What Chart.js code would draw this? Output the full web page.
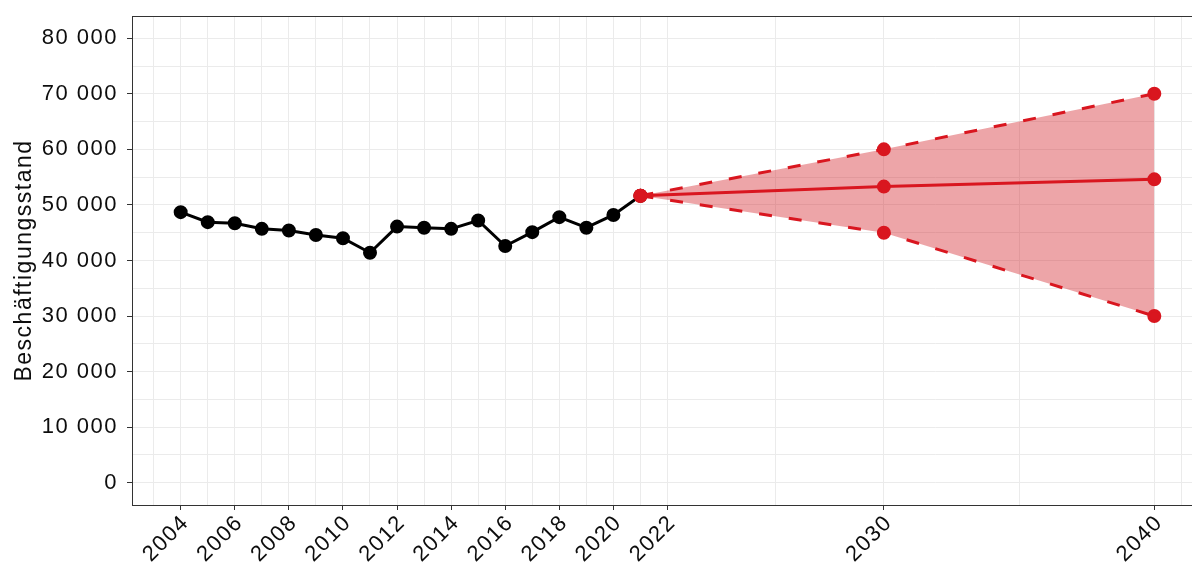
<!DOCTYPE html>
<html lang="de">
<head>
    <meta charset="UTF-8">
    <title>Beschäftigungsstand</title>
    <script src="https://cdn.jsdelivr.net/npm/chart.js"></script>
    <style>
        body { margin: 0; background: white; overflow: hidden; }
    </style>
</head>
<body>
    <canvas id="employmentChart" width="1203" height="568"></canvas>
    <script>
        // historische Werte
        const years = [2004, 2005, 2006, 2007, 2008, 2009, 2010, 2011, 2012, 2013, 2014, 2015, 2016, 2017, 2018, 2019, 2020, 2021];
        const employment = [48700, 46900, 46700, 45700, 45400, 44600, 44000, 41400, 46100, 45900, 45700, 47200, 42600, 45100, 47800, 45900, 48200, 51650];

        // Prognose
        const forecastYears = [2021, 2030, 2040];
        const forecastMid = [51650, 53300, 54600];
        const forecastHigh = [51650, 60000, 70000];
        const forecastLow = [51650, 45000, 30000];

        // Achsen
        const xMajorTicks = [2004, 2006, 2008, 2010, 2012, 2014, 2016, 2018, 2020, 2022, 2030, 2040];
        const xMinorTicks = [2003, 2005, 2007, 2009, 2011, 2013, 2015, 2017, 2019, 2021, 2026, 2035, 2041];
        const yMajorTicks = [0, 10000, 20000, 30000, 40000, 50000, 60000, 70000, 80000];
        const yMinorTicks = [5000, 15000, 25000, 35000, 45000, 55000, 65000, 75000];

        const red = '#D9161F';
        const fontFamily = "'Liberation Sans', Arial, sans-serif";

        function fmt(v) {
            return String(v).replace(/\B(?=(\d{3})+(?!\d))/g, ' ');
        }
        function toPoints(xs, ys) {
            return xs.map((x, i) => ({ x: x, y: ys[i] }));
        }

        const spacingPlugin = {
            id: 'spacing',
            beforeUpdate(chart) { chart.ctx.letterSpacing = '1.5px'; },
            beforeDraw(chart) { chart.ctx.letterSpacing = '1.5px'; }
        };

        const panelBorder = {
            id: 'panelBorder',
            afterDraw(chart) {
                const a = chart.chartArea;
                const ctx = chart.ctx;
                ctx.save();
                ctx.strokeStyle = '#333333';
                ctx.lineWidth = 1;
                ctx.strokeRect(Math.round(a.left) + 0.5, Math.round(a.top) + 0.5, Math.round(a.right - a.left), Math.round(a.bottom - a.top));
                ctx.restore();
            }
        };

        const ctx = document.getElementById('employmentChart').getContext('2d');
        new Chart(ctx, {
            type: 'line',
            data: {
                datasets: [
                    {
                        label: 'Prognose',
                        data: toPoints(forecastYears, forecastMid),
                        borderColor: red, pointBackgroundColor: red, pointBorderColor: red,
                        borderWidth: 3, pointRadius: 5.5, fill: false, order: 1
                    },
                    {
                        label: 'obere Grenze',
                        data: toPoints(forecastYears, forecastHigh),
                        borderColor: red, pointBackgroundColor: red, pointBorderColor: red,
                        borderWidth: 3, borderDash: [13, 17], pointRadius: 5.5, fill: false, order: 1
                    },
                    {
                        label: 'untere Grenze',
                        data: toPoints(forecastYears, forecastLow),
                        borderColor: red, pointBackgroundColor: red, pointBorderColor: red,
                        backgroundColor: 'rgba(212, 36, 44, 0.41)',
                        borderWidth: 3, borderDash: [13, 17], pointRadius: 5.5, fill: '-1', order: 1
                    },
                    {
                        label: 'Beschäftigungsstand',
                        data: toPoints(years, employment),
                        borderColor: '#000000', pointBackgroundColor: '#000000', pointBorderColor: '#000000',
                        borderWidth: 3, pointRadius: 5.5, fill: false, order: 2
                    }
                ]
            },
            options: {
                responsive: false,
                animation: false,
                devicePixelRatio: 1,
                layout: { autoPadding: false, padding: { top: 16, right: 0, left: 0, bottom: 0 } },
                plugins: {
                    legend: { display: false },
                    tooltip: { enabled: false }
                },
                scales: {
                    x: {
                        type: 'linear',
                        min: 2002.2,
                        max: 2041.8,
                        afterBuildTicks: s => { s.ticks = xMajorTicks.concat(xMinorTicks).sort((a, b) => a - b).map(v => ({ value: v })); },
                        afterFit: s => { s.height = 63; s.paddingLeft = 0; s.paddingRight = 0; },
                        border: { display: false },
                        grid: {
                            color: '#EBEBEB',
                            tickColor: c => xMajorTicks.includes(c.tick && c.tick.value) ? '#333333' : 'rgba(0,0,0,0)',
                            tickLength: 5,
                            lineWidth: 1
                        },
                        ticks: {
                            autoSkip: false,
                            minRotation: 45,
                            maxRotation: 45,
                            padding: 0,
                            labelOffset: 5,
                            color: '#0d0d0d',
                            font: { family: fontFamily, size: 22 },
                            callback: v => xMajorTicks.includes(v) ? String(v) : ''
                        }
                    },
                    y: {
                        min: -4000,
                        max: 84000,
                        afterBuildTicks: s => { s.ticks = yMajorTicks.concat(yMinorTicks).sort((a, b) => a - b).map(v => ({ value: v })); },
                        afterFit: s => { s.width = 132; s.paddingTop = 0; s.paddingBottom = 0; },
                        border: { display: false },
                        grid: {
                            color: '#EBEBEB',
                            tickColor: c => yMajorTicks.includes(c.tick && c.tick.value) ? '#333333' : 'rgba(0,0,0,0)',
                            tickLength: 5,
                            lineWidth: 1
                        },
                        title: {
                            display: true,
                            text: 'Beschäftigungsstand',
                            color: '#0d0d0d',
                            font: { family: fontFamily, size: 23 },
                            padding: { top: 11, bottom: 0 }
                        },
                        ticks: {
                            autoSkip: false,
                            padding: 9,
                            color: '#0d0d0d',
                            font: { family: fontFamily, size: 22 },
                            callback: v => yMajorTicks.includes(v) ? fmt(v) : ''
                        }
                    }
                }
            },
            plugins: [spacingPlugin, panelBorder]
        });
    </script>
</body>
</html>
